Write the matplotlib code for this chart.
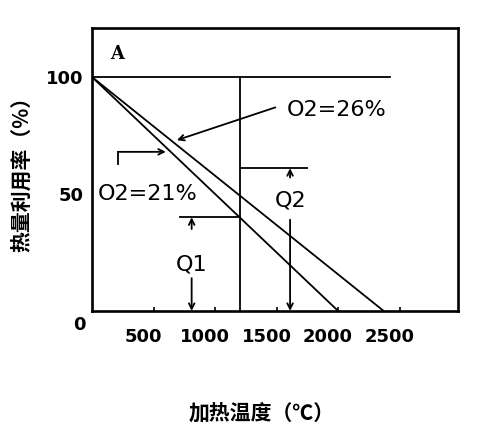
import matplotlib.pyplot as plt
import matplotlib.transforms as mtransforms

plt.rcParams['font.family'] = ['Noto Sans CJK SC', 'DejaVu Sans']

# heat utilisation vs heating temperature
t21 = [0, 2000]
u21 = [100, 0]
t26 = [0, 2370]
u26 = [100, 0]

t_work = 1200          # working temperature (vertical guide)
top_end = 2420         # end of the 100% line
q1_level, q1_from = 40, 715
q2_level, q2_to = 61, 1750
q1_x, q2_x = 810, 1610

xticks = [500, 1000, 1500, 2000, 2500]
yticks = [50, 100]

fig = plt.figure(figsize=(5, 4.36), dpi=100)
ax = fig.add_axes([0.184, 0.287, 0.732, 0.649])

lw = 1.3
ax.plot(t21, u21, color='black', lw=lw)
ax.plot(t26, u26, color='black', lw=lw)
ax.plot([0, top_end], [100, 100], color='black', lw=lw)
ax.plot([t_work, t_work], [0, 100], color='black', lw=lw)
ax.plot([q1_from, t_work], [q1_level, q1_level], color='black', lw=lw)
ax.plot([t_work, q2_to], [q2_level, q2_level], color='black', lw=lw)

ap = dict(arrowstyle='->', color='black', lw=1.3, shrinkA=0, shrinkB=0)
# Q1
ax.annotate('', xy=(q1_x, q1_level), xytext=(q1_x, q1_level - 5), arrowprops=ap)
ax.annotate('', xy=(q1_x, 0), xytext=(q1_x, 14), arrowprops=ap)
ax.text(q1_x, 20, 'Q1', ha='center', va='center', fontsize=16, family='DejaVu Sans')
# Q2
ax.annotate('', xy=(q2_x, q2_level), xytext=(q2_x, q2_level - 4), arrowprops=ap)
ax.annotate('', xy=(q2_x, 0), xytext=(q2_x, 39), arrowprops=ap)
ax.text(q2_x, 47, 'Q2', ha='center', va='center', fontsize=16, family='DejaVu Sans')

# O2 labels
ax.annotate('', xy=(690, 73), xytext=(1490, 87), arrowprops=ap)
ax.text(1580, 86, 'O2=26%', ha='left', va='center', fontsize=16, family='DejaVu Sans')
ax.plot([210, 210], [63, 68], color='black', lw=1.3)
ax.annotate('', xy=(600, 68), xytext=(210, 68), arrowprops=ap)
ax.text(50, 50, 'O2=21%', ha='left', va='center', fontsize=16, family='DejaVu Sans')

ax.text(150, 110, 'A', ha='left', va='center', fontsize=13, fontweight='bold',
        family='DejaVu Serif')

ax.set_xlim(0, 2975)
ax.set_ylim(0, 121)
ax.set_xticks(xticks)
ax.set_xticklabels([str(v) for v in xticks], fontsize=13, fontweight='bold',
                   family='DejaVu Sans')
ax.set_yticks(yticks)
ax.set_yticklabels([str(v) for v in yticks], fontsize=13, fontweight='bold',
                   family='DejaVu Sans')
ax.tick_params(axis='x', direction='in', length=3, width=1.2, pad=12)
ax.tick_params(axis='y', direction='in', length=0, pad=6)
shift = mtransforms.ScaledTranslation(-10 / 100, 0, fig.dpi_scale_trans)
for lab in ax.get_xticklabels():
    lab.set_transform(lab.get_transform() + shift)
for s in ax.spines.values():
    s.set_linewidth(1.9)

ax.text(-0.035, -0.05, '0', transform=ax.transAxes, ha='center', va='center',
        fontsize=13, fontweight='bold', family='DejaVu Sans')

ax.set_ylabel('热量利用率（%）', fontsize=15, fontweight='bold', labelpad=10)
fig.text(0.524, 0.053, '加热温度（℃）', ha='center', va='center',
         fontsize=15, fontweight='bold')

fig.savefig('out.png', dpi=100)
